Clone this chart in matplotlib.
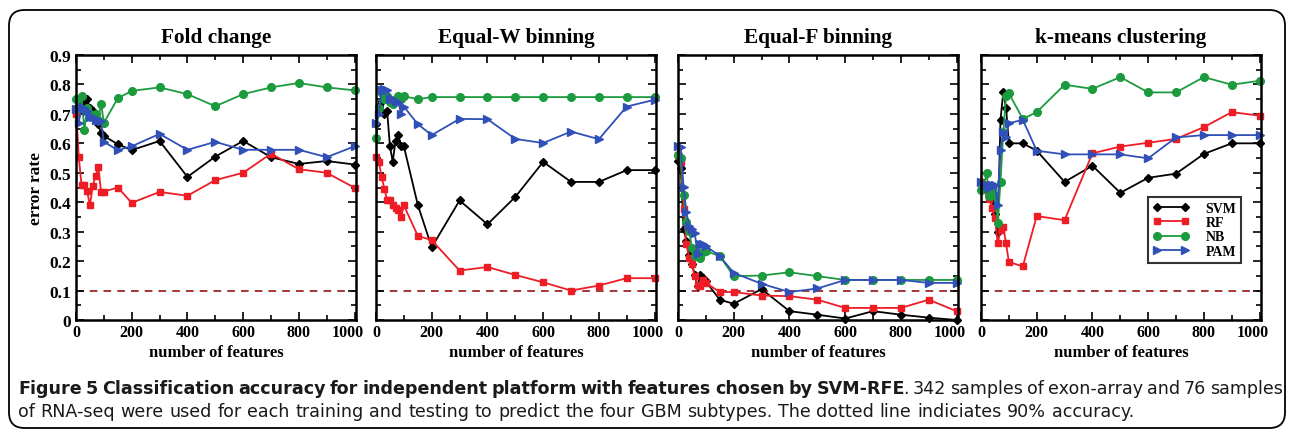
import matplotlib
matplotlib.use('Agg')
import matplotlib.pyplot as plt
from matplotlib.patches import FancyBboxPatch
from matplotlib.ticker import MultipleLocator, FuncFormatter
from matplotlib.transforms import ScaledTranslation

# number of features used for each run
n_features = [1, 10, 20, 30, 40, 50, 60, 70, 80, 90, 100,
              150, 200, 300, 400, 500, 600, 700, 800, 900, 1000]

# Fold change
fold_svm = [0.72, 0.71, 0.73, 0.745, 0.75, 0.72, 0.71, 0.70, 0.665, 0.635, 0.625,
            0.597, 0.577, 0.608, 0.486, 0.555, 0.608, 0.553, 0.53, 0.54, 0.528]
fold_rf = [0.70, 0.553, 0.457, 0.46, 0.437, 0.389, 0.454, 0.49, 0.518, 0.436, 0.436,
           0.45, 0.398, 0.435, 0.422, 0.475, 0.50, 0.565, 0.512, 0.50, 0.449]
fold_nb = [0.75, 0.72, 0.76, 0.645, 0.72, 0.70, 0.69, 0.70, 0.68, 0.735, 0.67,
           0.753, 0.778, 0.79, 0.767, 0.726, 0.767, 0.79, 0.805, 0.79, 0.78]
fold_pam = [0.715, 0.67, 0.725, 0.72, 0.71, 0.69, 0.69, 0.68, 0.68, 0.675, 0.605,
            0.577, 0.59, 0.632, 0.578, 0.605, 0.578, 0.578, 0.578, 0.553, 0.59]

# Equal-W binning
eqw_svm = [0.665, 0.727, 0.745, 0.70, 0.71, 0.59, 0.538, 0.607, 0.629, 0.59, 0.59,
           0.391, 0.247, 0.406, 0.325, 0.418, 0.537, 0.469, 0.469, 0.509, 0.509]
eqw_rf = [0.555, 0.538, 0.487, 0.446, 0.406, 0.406, 0.389, 0.38, 0.372, 0.35, 0.389,
          0.286, 0.271, 0.168, 0.18, 0.153, 0.128, 0.10, 0.117, 0.142, 0.142]
eqw_nb = [0.617, 0.72, 0.77, 0.75, 0.76, 0.74, 0.735, 0.75, 0.76, 0.75, 0.76,
          0.75, 0.757, 0.757, 0.757, 0.757, 0.757, 0.757, 0.757, 0.757, 0.757]
eqw_pam = [0.67, 0.70, 0.78, 0.785, 0.78, 0.75, 0.75, 0.745, 0.74, 0.70, 0.725,
           0.665, 0.628, 0.683, 0.682, 0.615, 0.601, 0.64, 0.614, 0.725, 0.748]

# Equal-F binning
eqf_svm = [0.54, 0.515, 0.31, 0.27, 0.22, 0.19, 0.154, 0.114, 0.154, 0.144, 0.131,
           0.069, 0.055, 0.105, 0.03, 0.018, 0.005, 0.03, 0.018, 0.008, 0.0]
eqf_rf = [0.56, 0.538, 0.377, 0.257, 0.212, 0.189, 0.151, 0.12, 0.114, 0.137, 0.126,
          0.095, 0.095, 0.083, 0.081, 0.069, 0.041, 0.041, 0.041, 0.069, 0.03]
eqf_nb = [0.56, 0.549, 0.423, 0.332, 0.303, 0.246, 0.217, 0.223, 0.211, 0.23, 0.234,
          0.217, 0.149, 0.151, 0.162, 0.149, 0.136, 0.136, 0.136, 0.136, 0.136]
eqf_pam = [0.59, 0.589, 0.452, 0.367, 0.32, 0.309, 0.297, 0.223, 0.257, 0.257, 0.251,
           0.217, 0.16, 0.123, 0.095, 0.107, 0.136, 0.136, 0.136, 0.126, 0.126]

# k-means clustering
km_svm = [0.47, 0.46, 0.46, 0.42, 0.41, 0.36, 0.30, 0.68, 0.775, 0.72, 0.60,
          0.60, 0.575, 0.469, 0.524, 0.432, 0.483, 0.497, 0.564, 0.60, 0.60]
km_rf = [0.47, 0.45, 0.44, 0.41, 0.38, 0.345, 0.26, 0.305, 0.315, 0.26, 0.197,
         0.182, 0.353, 0.339, 0.566, 0.589, 0.602, 0.615, 0.655, 0.706, 0.694]
km_nb = [0.44, 0.45, 0.50, 0.42, 0.45, 0.42, 0.33, 0.47, 0.64, 0.76, 0.77,
         0.683, 0.706, 0.799, 0.785, 0.825, 0.773, 0.773, 0.825, 0.799, 0.8125]
km_pam = [0.47, 0.46, 0.46, 0.45, 0.46, 0.46, 0.39, 0.577, 0.64, 0.62, 0.668,
          0.68, 0.575, 0.5625, 0.5625, 0.5625, 0.549, 0.62, 0.628, 0.628, 0.628]

panel_titles = ['Fold change', 'Equal-W binning', 'Equal-F binning', 'k-means clustering']
panel_data = [
    (fold_svm, fold_rf, fold_nb, fold_pam),
    (eqw_svm, eqw_rf, eqw_nb, eqw_pam),
    (eqf_svm, eqf_rf, eqf_nb, eqf_pam),
    (km_svm, km_rf, km_nb, km_pam),
]
method_names = ['SVM', 'RF', 'NB', 'PAM']
x_ticks = [0, 200, 400, 600, 800, 1000]
accuracy_line = 0.1

caption_bold = 'Figure 5 Classification accuracy for independent platform with features chosen by SVM-RFE'
caption_rest1 = '342 samples of exon-array and 76 samples'
caption_line2 = ('of RNA-seq were used for each training and testing to predict the four '
                 'GBM subtypes. The dotted line indiciates 90% accuracy.')

STYLES = [
    dict(color='black', marker='D', markersize=4),
    dict(color='#ee1c25', marker='s', markersize=5),
    dict(color='#1c9a3e', marker='o', markersize=5.5),
    dict(color='#3050b8', marker='>', markersize=6),
]

SERIF = 'Liberation Serif'
CAPTION_FONT = 'DejaVu Sans'

fig = plt.figure(figsize=(12.95, 4.35), dpi=100)
W, H = 1295.0, 435.0

# rounded frame around figure + caption
frame = FancyBboxPatch((9 / W, 6 / H), 1276 / W, 418 / H,
                       boxstyle='round,pad=0,rounding_size=0.012',
                       transform=fig.transFigure, fill=False,
                       edgecolor='black', linewidth=1.3, mutation_aspect=W / H)
fig.patches.append(frame)

lefts = [76, 376, 678, 981]
for i, (left, title, series) in enumerate(zip(lefts, panel_titles, panel_data)):
    ax = fig.add_axes([left / W, 1 - 321 / H, 280 / W, 265 / H])
    ax.axhline(accuracy_line, color='#8b0000', linestyle=(0, (5, 4)), linewidth=1.1, zorder=1)
    for vals, name, st in zip(series, method_names, STYLES):
        ax.plot(n_features, vals, linewidth=1.3, label=name, clip_on=False, **st)

    ax.set_xlim(0, 1005)
    ax.set_ylim(0, 0.9)
    ax.set_xticks(x_ticks)
    ax.xaxis.set_minor_locator(MultipleLocator(100))
    ax.yaxis.set_major_locator(MultipleLocator(0.1))
    ax.yaxis.set_minor_locator(MultipleLocator(0.05))
    ax.tick_params(which='both', direction='in', top=True, right=True, width=1.2)
    ax.tick_params(which='major', length=6)
    ax.tick_params(which='minor', length=3.5)
    for spine in ax.spines.values():
        spine.set_linewidth(1.8)

    ax.xaxis.set_major_formatter(FuncFormatter(lambda v, p: '%d' % v))
    ax.tick_params(axis='x', pad=3)
    for lab in ax.get_xticklabels():
        lab.set_fontfamily(SERIF)
        lab.set_fontweight('bold')
        lab.set_fontsize(11.5)
    # the "1000" label sits a little left of its tick, as in the original
    last = ax.xaxis.get_major_ticks()[-1].label1
    last.set_transform(last.get_transform() + ScaledTranslation(-7 / 100, 0, fig.dpi_scale_trans))

    if i == 0:
        ax.yaxis.set_major_formatter(FuncFormatter(
            lambda v, p: '0' if abs(v) < 1e-9 else '%.1f' % v))
        for lab in ax.get_yticklabels():
            lab.set_fontfamily(SERIF)
            lab.set_fontweight('bold')
            lab.set_fontsize(12.5)
        ax.set_ylabel('error rate', fontfamily=SERIF, fontweight='bold', fontsize=12.5, labelpad=4)
    else:
        ax.set_yticklabels([])

    ax.set_xlabel('number of features', fontfamily=SERIF, fontweight='bold', fontsize=12, labelpad=3)
    ax.set_title(title, fontfamily=SERIF, fontweight='bold', fontsize=15.3, pad=9)

    if i == 3:
        leg = ax.legend(loc='upper right', bbox_to_anchor=(0.93, 0.465), numpoints=2,
                        prop=dict(family=SERIF, weight='bold', size=10),
                        frameon=True, fancybox=False, edgecolor='black',
                        handlelength=2.6, handletextpad=1.2, borderpad=0.35,
                        labelspacing=0.1, borderaxespad=0)
        leg.get_frame().set_linewidth(1.5)

# caption: first line justified, size chosen so the second line fits its width
fig.canvas.draw()
renderer = fig.canvas.get_renderer()


def text_width(s, size, weight='normal'):
    t = fig.text(0, 0, s, fontsize=size, fontweight=weight, family=CAPTION_FONT)
    w = t.get_window_extent(renderer).width
    t.remove()
    return w


cap_size = 13.5 * 1112.0 / text_width(caption_line2, 13.5)

line1 = [(w, 'bold') for w in caption_bold.split()]
line1 += [('.', 'normal')]
line1 += [(w, 'normal') for w in caption_rest1.split()]
line2 = [(w, 'normal') for w in caption_line2.split()]


def place_line(words, y, x0, x1, justify):
    items = []
    for w, wt in words:
        t = fig.text(0, y, w, fontsize=cap_size, fontweight=wt, family=CAPTION_FONT,
                     ha='left', va='baseline', color='#1a1a1a')
        items.append((t, t.get_window_extent(renderer).width))
    space = text_width('a a', cap_size) - text_width('aa', cap_size)
    glued = [w == '.' for w, _ in words]
    n_gaps = len(items) - 1 - sum(glued)
    total = sum(wd for _, wd in items) - 2 * sum(glued)
    gap = (x1 - x0 - total) / n_gaps if justify else space
    x = x0
    for k, (t, wd) in enumerate(items):
        if k > 0:
            x += -2 if glued[k] else gap
        t.set_x(x / W)
        x += wd


place_line(line1, 1 - 394 / H, 18, 1283, True)
place_line(line2, 1 - 417 / H, 18, 1283, False)

fig.savefig('out.png', dpi=100)
